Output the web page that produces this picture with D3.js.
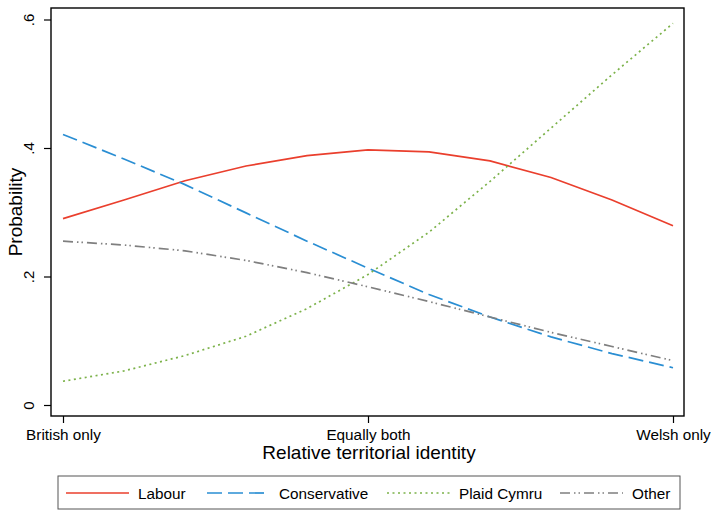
<!DOCTYPE html>
<html>
<head>
<meta charset="utf-8">
<script src="https://cdn.jsdelivr.net/npm/d3@7"></script>
<style>
  html, body { margin: 0; padding: 0; background: #fff; }
  svg { display: block; font-family: "Liberation Sans", Arial, Helvetica, sans-serif; }
</style>
</head>
<body>
<svg id="chart" width="711" height="510"></svg>
<script>
// ---- data ----
const xPoints = [0, 1, 2, 3, 4, 5, 6, 7, 8, 9, 10];
const xTickValues = [0, 5, 10];
const xTickLabels = ["British only", "Equally both", "Welsh only"];
const yTickValues = [0, 0.2, 0.4, 0.6];
const yTickLabels = ["0", ".2", ".4", ".6"];
const seriesNames = ["Labour", "Conservative", "Plaid Cymru", "Other"];
const labour       = [0.290, 0.319, 0.349, 0.372, 0.388, 0.397, 0.394, 0.380, 0.354, 0.319, 0.279];
const conservative = [0.421, 0.383, 0.343, 0.299, 0.255, 0.213, 0.172, 0.137, 0.106, 0.080, 0.058];
const plaidCymru   = [0.037, 0.053, 0.077, 0.107, 0.150, 0.203, 0.269, 0.348, 0.431, 0.514, 0.594];
const other        = [0.255, 0.249, 0.240, 0.225, 0.206, 0.184, 0.161, 0.137, 0.113, 0.091, 0.069];
const seriesValues = [labour, conservative, plaidCymru, other];

// ---- styles ----
const colors = ["#ea3f2d", "#2a8ed3", "#7cb24a", "#7f7f7f"];
const dashes = [null, "15,6", "2,3.5", "10,4,1.5,3,1.5,4"];

const svg = d3.select("#chart");
const frame = { left: 51, right: 684, top: 8, bottom: 416 };

const x = d3.scaleLinear().domain([0, 10]).range([63, 673]);
const y = d3.scaleLinear().domain([0, 0.6]).range([405, 19.5]);

// plot frame
svg.append("rect")
  .attr("x", frame.left).attr("y", frame.top)
  .attr("width", frame.right - frame.left).attr("height", frame.bottom - frame.top)
  .attr("fill", "none").attr("stroke", "#000").attr("stroke-width", 1.4);

// y axis
const yAxis = d3.axisLeft(y).tickValues(yTickValues)
  .tickFormat((d, i) => yTickLabels[i]).tickSize(7).tickPadding(9);
const gy = svg.append("g").attr("transform", `translate(${frame.left},0)`).call(yAxis);
gy.select(".domain").remove();
gy.selectAll(".tick line").attr("stroke", "#000").attr("stroke-width", 1.2);
gy.selectAll(".tick text")
  .attr("font-size", 15).attr("fill", "#000")
  .attr("text-anchor", "middle")
  .attr("x", 0).attr("y", 0).attr("dy", "0")
  .attr("transform", "translate(-17,0) rotate(-90)");

// x axis
const xAxis = d3.axisBottom(x).tickValues(xTickValues)
  .tickFormat((d, i) => xTickLabels[i]).tickSize(7).tickPadding(6);
const gx = svg.append("g").attr("transform", `translate(0,${frame.bottom})`).call(xAxis);
gx.select(".domain").remove();
gx.selectAll(".tick line").attr("stroke", "#000").attr("stroke-width", 1.2);
gx.selectAll(".tick text").attr("font-size", 15.3).attr("fill", "#000");

// axis titles
svg.append("text").attr("x", 369).attr("y", 459)
  .attr("text-anchor", "middle").attr("font-size", 19).attr("fill", "#000")
  .text("Relative territorial identity");
svg.append("text")
  .attr("transform", `translate(22,${(frame.top + frame.bottom) / 2}) rotate(-90)`)
  .attr("text-anchor", "middle").attr("font-size", 19).attr("fill", "#000")
  .text("Probability");

// lines
const line = d3.line().x((d, i) => x(xPoints[i])).y(d => y(d));
seriesValues.forEach((vals, k) => {
  svg.append("path").datum(vals)
    .attr("d", line)
    .attr("fill", "none")
    .attr("stroke", colors[k])
    .attr("stroke-width", 1.7)
    .attr("stroke-dasharray", dashes[k]);
});

// legend
const legBox = { x: 58, y: 476, w: 622, h: 33 };
svg.append("rect").attr("x", legBox.x).attr("y", legBox.y)
  .attr("width", legBox.w).attr("height", legBox.h)
  .attr("fill", "#fff").attr("stroke", "#555").attr("stroke-width", 1);
const legX = [66, 207, 387, 560];
const legY = 493;
seriesNames.forEach((name, k) => {
  svg.append("line")
    .attr("x1", legX[k]).attr("x2", legX[k] + 63)
    .attr("y1", legY).attr("y2", legY)
    .attr("stroke", colors[k]).attr("stroke-width", 1.7)
    .attr("stroke-dasharray", dashes[k]);
  svg.append("text").attr("x", legX[k] + 72).attr("y", legY + 5.5)
    .attr("font-size", 15.3).attr("fill", "#000").text(name);
});
</script>
</body>
</html>
